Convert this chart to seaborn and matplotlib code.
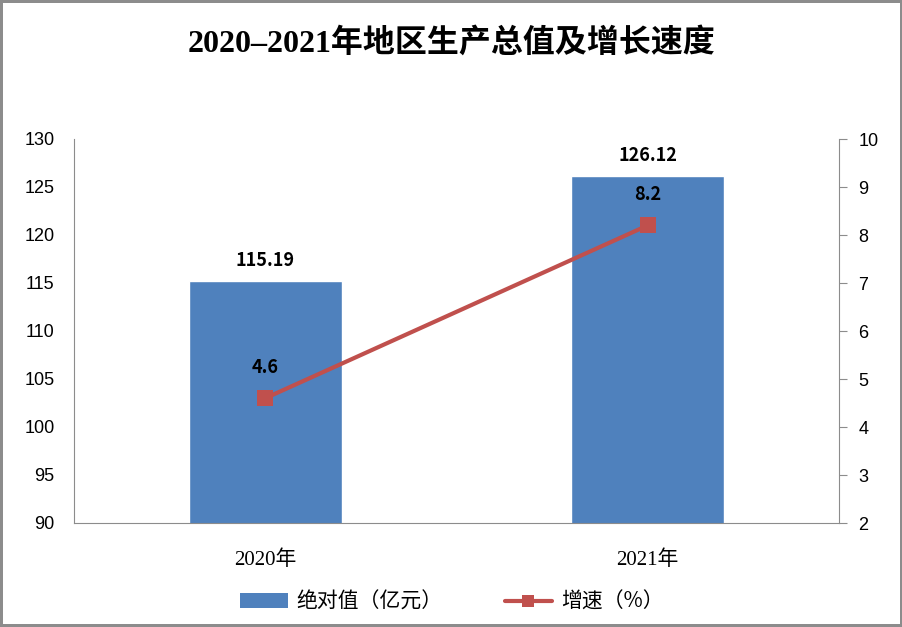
import matplotlib
matplotlib.use('Agg')
import matplotlib.pyplot as plt
import seaborn as sns
import numpy as np
import pandas as pd
from matplotlib.lines import Line2D
from matplotlib.patches import Patch

years=['2020年','2021年']
gdp=[115.19,126.12]
growth=[4.6,8.2]
gdp_labels=['115.19','126.12']
growth_labels=['4.6','8.2']

bar_c='#4F81BD'
line_c='#C0504D'
cjk=['Noto Sans CJK SC','DejaVu Sans']
serif_cjk=['Liberation Serif','Noto Sans CJK SC']

sns.set_style('white')
plt.rcParams['font.family']=cjk
plt.rcParams['text.color']='black'
plt.rcParams['xtick.color']='black';plt.rcParams['ytick.color']='black'

df=pd.DataFrame({'year':years,'gdp':gdp,'growth':growth})

fig=plt.figure(figsize=(9.03,6.27),dpi=100)
fig.patch.set_edgecolor('#8c8c8c');fig.patch.set_linewidth(3)
ax=fig.add_axes([74/903,1-523/627,765/903,384/627])
sns.barplot(data=df,x='year',y='gdp',color=bar_c,width=0.4,saturation=1,ax=ax)
ax.set_ylim(90,130)
ax.set_yticks(np.arange(90,131,5))
ax.set_xlim(-0.5,1.5)
ax.set_xlabel('');ax.set_ylabel('')
ax.tick_params(axis='y',length=0,pad=14,labelsize=13,labelcolor='black')
ax.tick_params(axis='x',length=0,pad=20,labelsize=15,labelcolor='black')
for t in ax.get_yticklabels():t.set_family('Liberation Sans')
for t in ax.get_xticklabels():t.set_family(serif_cjk)
for s in ['top','right']:ax.spines[s].set_visible(False)
ax.spines['left'].set_color('#8c8c8c');ax.spines['bottom'].set_color('#8c8c8c')

for i,v in enumerate(gdp):
	ax.text(i,v+1.2,gdp_labels[i],ha='center',va='bottom',fontsize=13,fontweight='bold')

ax2=ax.twinx()
sns.lineplot(x=np.arange(len(years)),y=growth,color=line_c,lw=3,marker='s',markersize=11,markeredgewidth=0,ax=ax2)
ax2.set_ylim(2,10)
ax2.set_yticks(np.arange(2,11,1))
ax2.tick_params(axis='y',length=6,color='#8c8c8c',pad=8,labelsize=13,labelcolor='black')
for t in ax2.get_yticklabels():t.set_family('Liberation Sans')
for s in ['top','left','bottom']:ax2.spines[s].set_visible(False)
ax2.spines['right'].set_color('#8c8c8c')
for i,v in enumerate(growth):
	ax2.text(i,v+0.45,growth_labels[i],ha='center',va='bottom',fontsize=13,fontweight='bold')

fig.text(0.5,1-43/627,'2020–2021年地区生产总值及增长速度',ha='center',va='center',fontsize=23,fontweight='bold',family=serif_cjk)

handles=[Patch(facecolor=bar_c,edgecolor='none'),
	Line2D([],[],color=line_c,lw=3,marker='s',markersize=9,markeredgewidth=0)]
fig.legend(handles,['绝对值（亿元）','增速（%）'],loc='center',bbox_to_anchor=(0.5,1-602/627),ncol=2,frameon=False,fontsize=15,handlelength=2.3,columnspacing=3,handletextpad=0.4)

plt.savefig('out.png',dpi=100)
plt.close()
